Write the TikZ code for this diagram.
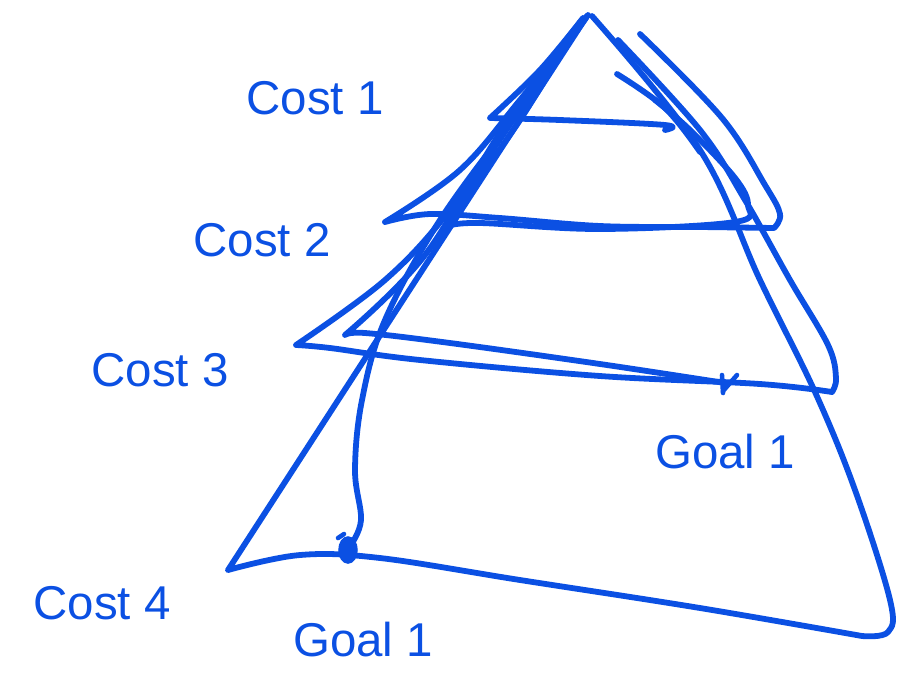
\documentclass[tikz,border=0pt]{standalone}
\usepackage{fontspec}
\setmainfont{Liberation Sans}
\usetikzlibrary{calc}
\definecolor{pen}{HTML}{0B50E3}

\begin{document}
\begin{tikzpicture}[x=0.2mm,y=-0.2mm,
  ink/.style={draw=pen,line width=3.3pt,line cap=round,line join=round},
  lbl/.style={text=pen,font=\fontsize{27}{30}\selectfont,inner sep=0pt},
  goalblob/.style={fill=pen,draw=pen,line width=2pt}]
\useasboundingbox (0,0) rectangle (911,686);

% outer triangle
\draw[ink] (587,16) -- (228,570)
  plot[smooth,tension=0.6] coordinates {(228,570) (300,555) (380,558) (520,580) (700,608) (862,636)}
  plot[smooth,tension=0.6] coordinates {(862,636) (888,632) (890,600) (855,490) (815,392) (760,280) (700,150) (592,16)};

% cost 3 layer
\draw[ink] plot[smooth,tension=0.6] coordinates {(585,18) (520,110) (450,210) (385,280) (296,345)}
  plot[smooth,tension=0.6] coordinates {(296,345) (330,348) (420,360) (600,376) (760,384) (832,392)}
  plot[smooth,tension=0.6] coordinates {(832,392) (836,378) (828,345) (790,280) (745,200) (700,130) (618,40)};
\draw[ink] plot[smooth,tension=0.6] coordinates {(583,20) (505,125) (425,255) (345,335)}
  plot[smooth,tension=0.6] coordinates {(345,335) (365,333) (450,343) (600,364) (725,383)};

% cost 2 layer
\draw[ink] plot[smooth,tension=0.6] coordinates {(588,15) (520,100) (460,170) (385,222)}
  plot[smooth,tension=0.6] coordinates {(385,222) (430,214) (500,218) (600,226) (700,227) (774,228)}
  plot[smooth,tension=0.6] coordinates {(774,228) (780,214) (765,185) (722,118) (640,34)};
\draw[ink] plot[smooth,tension=0.6] coordinates {(580,22) (520,120) (470,190) (448,226)}
  plot[smooth,tension=0.6] coordinates {(448,226) (480,223) (600,229) (735,222) (748,205) (735,178) (690,130) (655,100)};

% cost 1 layer
\draw[ink] plot[smooth,tension=0.6] coordinates {(583,18) (540,70) (490,118)}
  plot[smooth,tension=0.6] coordinates {(490,118) (560,120) (665,125) (665,130)};
\draw[ink] plot[smooth,tension=0.6] coordinates {(617,74) (665,108) (700,152)};

% path to the lower goal
\draw[ink] plot[smooth,tension=0.6] coordinates {(586,18) (520,110) (440,220) (385,320) (362,400) (355,470) (361,520) (350,546)};

% goal marks
\coordinate (goalB) at (348,550);
\coordinate (goalR) at (725,383);
\fill[goalblob] (goalB) ellipse [x radius=8,y radius=12];
\draw[ink,line width=2.6pt] ($(goalB)+(-10,-12)$) -- ($(goalB)+(-4,-16)$);
\draw[ink,line width=2.6pt] ($(goalR)+(-3,-8)$) -- ($(goalR)+(-2,10)$);
\draw[ink,line width=2.6pt] ($(goalR)+(-2,8)$) -- ($(goalR)+(12,-8)$);

% labels
\node[lbl] (cost1) at (315,98) {Cost 1};
\node[lbl] (cost2) at (262,240) {Cost 2};
\node[lbl] (cost3) at (160,370) {Cost 3};
\node[lbl] (cost4) at (102,603) {Cost 4};
\node[lbl] (goal1) at (725,452) {Goal 1};
\node[lbl] (goal2) at (363,640) {Goal 1};
\end{tikzpicture}
\end{document}
